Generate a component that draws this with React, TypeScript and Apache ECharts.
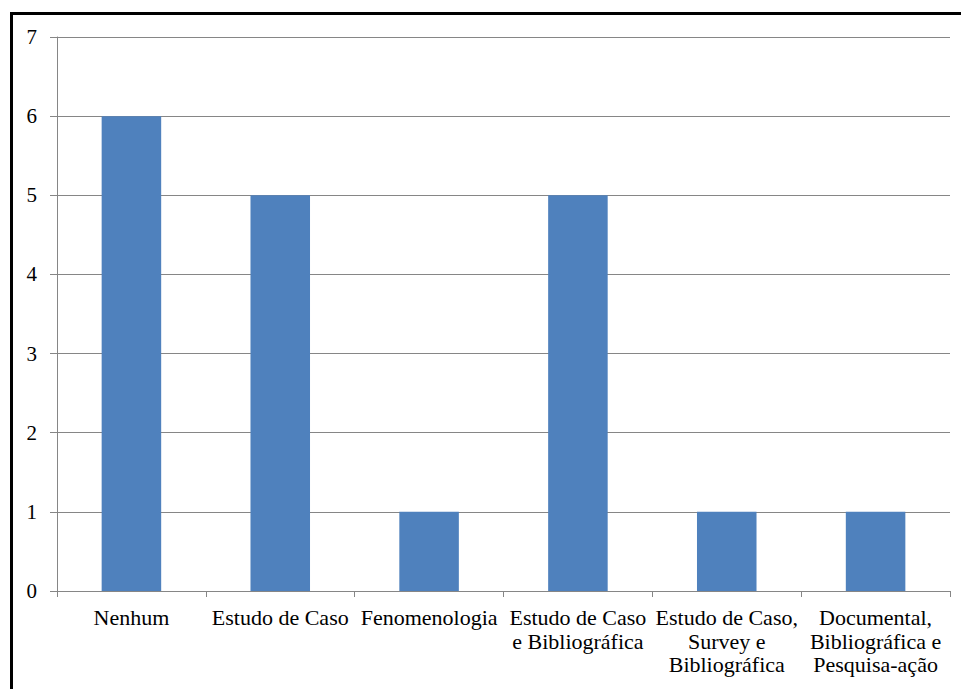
import React, { useEffect, useRef } from "react";
import * as echarts from "echarts";

const categories = [
  "Nenhum",
  "Estudo de Caso",
  "Fenomenologia",
  "Estudo de Caso\ne Bibliográfica",
  "Estudo de Caso,\nSurvey e\nBibliográfica",
  "Documental,\nBibliográfica e\nPesquisa-ação",
];
const values = [6, 5, 1, 5, 1, 1];
const yTicks = { min: 0, max: 7, interval: 1 };

export default function App() {
  const ref = useRef<HTMLDivElement>(null);
  useEffect(() => {
    if (!ref.current) return;
    const chart = echarts.init(ref.current, undefined, { renderer: "svg" });
    const font = "Liberation Serif";
    chart.setOption({
      animation: false,
      backgroundColor: "#ffffff",
      textStyle: { fontFamily: font },
      grid: { left: 57, right: 11, top: 37, bottom: 98, containLabel: false },
      graphic: [
        {
          type: "rect",
          shape: { x: 11.5, y: 13.5, width: 1000, height: 1000 },
          style: { fill: "none", stroke: "#000", lineWidth: 3 },
          silent: true,
        },
      ],
      xAxis: {
        type: "category",
        data: categories,
        axisLine: { show: true, lineStyle: { color: "#868686", width: 1 } },
        axisTick: { show: true, length: 6, alignWithLabel: false, lineStyle: { color: "#868686" } },
        axisLabel: {
          interval: 0,
          margin: 15,
          color: "#000",
          fontFamily: font,
          fontSize: 22,
          lineHeight: 23.5,
          align: "center",
        },
      },
      yAxis: {
        type: "value",
        min: yTicks.min,
        max: yTicks.max,
        interval: yTicks.interval,
        axisLine: { show: true, lineStyle: { color: "#868686", width: 1 } },
        axisTick: { show: true, length: 7, lineStyle: { color: "#868686" } },
        splitLine: { show: true, lineStyle: { color: "#868686", width: 1 } },
        axisLabel: { margin: 20, color: "#000", fontFamily: font, fontSize: 21 },
      },
      series: [
        {
          type: "bar",
          data: values,
          barWidth: "40%",
          itemStyle: { color: "#4f81bd" },
        },
      ],
    });
    return () => chart.dispose();
  }, []);
  return (
    <div
      ref={ref}
      style={{ position: "fixed", left: 0, top: 0, width: 961, height: 689 }}
    />
  );
}
